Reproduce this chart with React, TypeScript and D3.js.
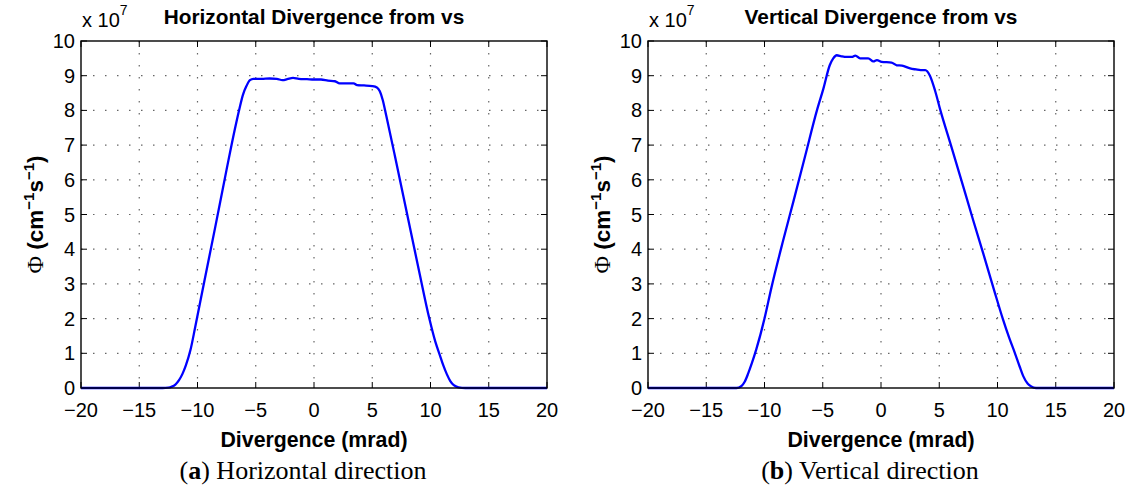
import React from 'react';
import * as d3 from 'd3';

// ---- data ----
const xTickValues = [-20, -15, -10, -5, 0, 5, 10, 15, 20];
const yTickValues = [0, 1, 2, 3, 4, 5, 6, 7, 8, 9, 10];

const horizDivergence = [-20, -16, -13, -12.5, -12.2, -11.9, -11.6, -11.3, -11.0, -10.6, -10.2, -9.4, -8.5, -7.5, -6.8, -6.4, -6.1, -5.8, -5.5, -5.2, -4.5, -3.8, -3.2, -2.7, -2.3, -1.8, -1.3, -0.6, 0, 0.6, 1.2, 1.8, 2.2, 2.8, 3.4, 3.7, 4.3, 5.0, 5.4, 5.65, 5.9, 6.2, 7.0, 8.0, 9.0, 9.9, 10.4, 10.8, 11.1, 11.4, 11.7, 12.0, 12.4, 13, 16, 20];
const horizFlux = [0, 0, 0, 0.01, 0.04, 0.1, 0.22, 0.4, 0.65, 1.1, 1.75, 3.1, 4.6, 6.3, 7.45, 8.05, 8.45, 8.7, 8.87, 8.91, 8.91, 8.92, 8.91, 8.87, 8.9, 8.94, 8.91, 8.9, 8.89, 8.89, 8.86, 8.84, 8.78, 8.78, 8.78, 8.73, 8.72, 8.7, 8.66, 8.55, 8.3, 7.85, 6.6, 5.0, 3.4, 2.0, 1.35, 0.95, 0.65, 0.4, 0.2, 0.08, 0.02, 0, 0, 0];

const vertDivergence = [-20, -16, -13, -12.4, -12.0, -11.7, -11.4, -11.1, -10.7, -10.0, -9.4, -8.4, -7.5, -6.5, -5.5, -4.95, -4.4, -4.1, -3.8, -3.4, -2.95, -2.5, -2.2, -1.8, -1.1, -0.65, -0.35, 0.05, 0.9, 1.35, 1.8, 2.5, 3.0, 3.4, 3.8, 4.2, 4.65, 5.1, 6.0, 6.8, 7.9, 8.8, 9.7, 10.45, 11.0, 11.5, 11.9, 12.2, 12.6, 12.9, 13.3, 16, 20];
const vertFlux = [0, 0, 0, 0, 0.05, 0.18, 0.42, 0.7, 1.12, 2.0, 2.9, 4.25, 5.4, 6.7, 8.0, 8.62, 9.3, 9.5, 9.59, 9.56, 9.54, 9.54, 9.58, 9.5, 9.5, 9.41, 9.45, 9.4, 9.38, 9.3, 9.29, 9.21, 9.18, 9.16, 9.16, 9.0, 8.56, 8.0, 7.0, 6.1, 4.85, 3.85, 2.83, 2.0, 1.45, 1.0, 0.62, 0.35, 0.12, 0.04, 0, 0, 0];

const titles = ['Horizontal Divergence from vs', 'Vertical Divergence from vs'];
const captionLetters = ['a', 'b'];
const captionTexts = ['Horizontal direction', 'Vertical direction'];
const xLabel = 'Divergence (mrad)';

// ---- layout ----
const W = 1136;
const H = 494;
const TOP = 41;
const BOTTOM = 388;
const SANS = '"Liberation Sans", Arial, Helvetica, sans-serif';
const SERIF = '"Liberation Serif", "Times New Roman", serif';
const fmt = (v: number) => (v < 0 ? '\u2212' + Math.abs(v) : String(v));

type PanelProps = {
  left: number;
  right: number;
  title: string;
  xs: number[];
  ys: number[];
  letter: string;
  caption: string;
};

function Panel({ left, right, title, xs, ys, letter, caption }: PanelProps) {
  const x = d3.scaleLinear().domain([-20, 20]).range([left, right]);
  const y = d3.scaleLinear().domain([0, 10]).range([BOTTOM, TOP]);
  const pts: [number, number][] = xs.map((v, i) => [v, ys[i]]);
  const line = d3
    .line<[number, number]>()
    .x((d) => x(d[0]))
    .y((d) => y(d[1]))
    .curve(d3.curveMonotoneX);
  const cx = (left + right) / 2;
  const tickLen = 6;
  const gridColor = '#666';
  const dash = '1.5 10.5';
  return (
    <g>
      {/* grid */}
      {xTickValues.slice(1, -1).map((t) => (
        <line key={'gx' + t} x1={x(t)} x2={x(t)} y1={TOP} y2={BOTTOM} stroke={gridColor} strokeWidth={1.2} strokeDasharray={dash} />
      ))}
      {yTickValues.slice(1, -1).map((t) => (
        <line key={'gy' + t} x1={left} x2={right} y1={y(t)} y2={y(t)} stroke={gridColor} strokeWidth={1.2} strokeDasharray={dash} />
      ))}
      {/* ticks */}
      {xTickValues.map((t) => (
        <g key={'tx' + t}>
          <line x1={x(t)} x2={x(t)} y1={BOTTOM} y2={BOTTOM - tickLen} stroke="#000" strokeWidth={1} />
          <line x1={x(t)} x2={x(t)} y1={TOP} y2={TOP + tickLen} stroke="#000" strokeWidth={1} />
          <text x={x(t)} y={BOTTOM + 29} textAnchor="middle" fontFamily={SANS} fontSize={20} fill="#000">
            {fmt(t)}
          </text>
        </g>
      ))}
      {yTickValues.map((t) => (
        <g key={'ty' + t}>
          <line x1={left} x2={left + tickLen} y1={y(t)} y2={y(t)} stroke="#000" strokeWidth={1} />
          <line x1={right} x2={right - tickLen} y1={y(t)} y2={y(t)} stroke="#000" strokeWidth={1} />
          <text x={left - 6} y={y(t) + 7} textAnchor="end" fontFamily={SANS} fontSize={20} fill="#000">
            {t}
          </text>
        </g>
      ))}
      {/* data line */}
      <path d={line(pts) || ''} fill="none" stroke="#0000ff" strokeWidth={2.3} strokeLinejoin="round" />
      {/* box */}
      <rect x={left} y={TOP} width={right - left} height={BOTTOM - TOP} fill="none" stroke="#000" strokeWidth={1.4} />
      {/* exponent */}
      <text x={left + 1} y={27} fontFamily={SANS} fontSize={20} fill="#000">
        x 10<tspan dy={-12} fontSize={14}>7</tspan>
      </text>
      {/* title */}
      <text x={cx} y={24} textAnchor="middle" fontFamily={SANS} fontWeight="bold" fontSize={20.8} fill="#000">
        {title}
      </text>
      {/* y label */}
      <text transform={`translate(${left - 38},${(TOP + BOTTOM) / 2}) rotate(-90)`} textAnchor="middle" fontFamily={SANS} fontWeight="bold" fontSize={22.5} fill="#000">
        <tspan fontFamily={SERIF} fontWeight="normal" fontSize={24}>Φ</tspan> (cm<tspan dy={-9} fontSize={15}>−1</tspan><tspan dy={9}>s</tspan><tspan dy={-9} fontSize={15}>−1</tspan><tspan dy={9}>)</tspan>
      </text>
      {/* x label */}
      <text x={cx} y={447} textAnchor="middle" fontFamily={SANS} fontWeight="bold" fontSize={21.3} fill="#000">
        {xLabel}
      </text>
      {/* caption */}
      <text x={cx - 11} y={479} textAnchor="middle" fontFamily={SERIF} fontSize={26} fill="#000">
        (<tspan fontWeight="bold">{letter}</tspan>) {caption}
      </text>
    </g>
  );
}

export default function App() {
  return (
    <svg width={W} height={H} viewBox={`0 0 ${W} ${H}`} style={{ position: 'absolute', left: 0, top: 0, background: '#fff' }}>
      <rect x={0} y={0} width={W} height={H} fill="#fff" />
      <Panel left={81} right={547} title={titles[0]} xs={horizDivergence} ys={horizFlux} letter={captionLetters[0]} caption={captionTexts[0]} />
      <Panel left={648} right={1114} title={titles[1]} xs={vertDivergence} ys={vertFlux} letter={captionLetters[1]} caption={captionTexts[1]} />
    </svg>
  );
}
